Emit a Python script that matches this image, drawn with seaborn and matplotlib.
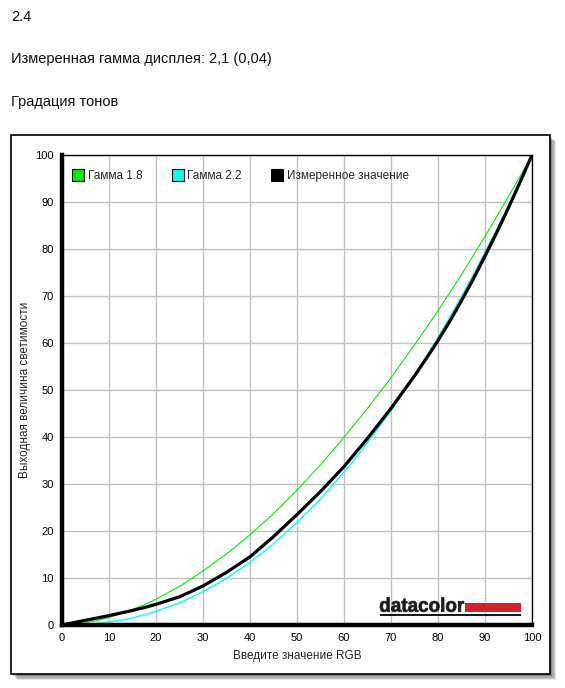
import numpy as np
import pandas as pd
import matplotlib
matplotlib.use("Agg")
import matplotlib.pyplot as plt
import seaborn as sns
from matplotlib.patches import Rectangle, PathPatch
from matplotlib.lines import Line2D
from matplotlib.textpath import TextPath
from matplotlib.font_manager import FontProperties
from matplotlib.transforms import Affine2D

# values
rgb_in = [0, 2.5, 5, 7.5, 10, 12.5, 15, 17.5, 20, 25, 30, 35, 40, 45, 50, 55, 60, 65, 70, 75,
          77.5, 80, 82.5, 85, 87.5, 90, 92.5, 95, 97.5, 100]
gamma_18 = [0, 0.13, 0.45, 0.95, 1.6, 2.4, 3.3, 4.3, 5.5, 8.2, 11.5, 15.1, 19.2, 23.7, 28.7, 34.1, 39.9, 46.1, 52.6, 59.6,
            63.2, 66.9, 70.7, 74.6, 78.6, 82.7, 86.9, 91.2, 95.5, 100]
gamma_22 = [0, 0.03, 0.14, 0.34, 0.63, 1.0, 1.5, 2.2, 2.9, 4.7, 7.1, 9.9, 13.3, 17.3, 21.8, 26.8, 32.5, 38.8, 45.6, 53.1,
            57.1, 61.2, 65.5, 69.9, 74.5, 79.3, 84.2, 89.3, 94.6, 100]
measured = [0, 0.5, 1.0, 1.5, 2.0, 2.55, 3.1, 3.7, 4.4, 6.0, 8.3, 11.2, 14.5, 18.8, 23.5, 28.4, 33.7, 39.7, 46.1, 53.0,
            56.7, 60.5, 64.6, 69.0, 73.6, 78.5, 83.5, 88.8, 94.3, 100]

series_names = ["Гамма 1.8", "Гамма 2.2", "Измеренное значение"]
series_colors = ["#00ee00", "#00ffff", "#000000"]
series_widths = [0.8, 1.0, 2.3]

ticks = list(range(0, 101, 10))

header_lines = ["2.4", "Измеренная гамма дисплея: 2,1 (0,04)", "Градация тонов"]
x_label = "Введите значение RGB"
y_label = "Выходная величина светимости"

sns.set_style("white")
plt.rcParams["font.family"] = ["Liberation Sans", "DejaVu Sans"]

W, H = 565, 688
fig = plt.figure(figsize=(W / 100, H / 100), dpi=100)

# page header text
for txt, ypx in zip(header_lines, [17, 59, 102]):
    fig.text(11 / W, 1 - ypx / H, txt, fontsize=10.5, va="center", ha="left", color="#111111")

# framed box with soft shadow
for i, a in enumerate([0.10, 0.12, 0.15, 0.2]):
    off = 6 - i * 1.2
    fig.patches.append(Rectangle(((11 + off) / W, (H - 674 - off) / H), 539 / W, 539 / H,
                                 transform=fig.transFigure, facecolor="#000000", alpha=a,
                                 edgecolor="none", zorder=0))
fig.patches.append(Rectangle((11 / W, (H - 674) / H), 539 / W, 539 / H,
                             transform=fig.transFigure, facecolor="white",
                             edgecolor="black", linewidth=1.2, zorder=1))

ax = fig.add_axes([62 / W, (H - 625) / H, 470 / W, 470 / H])
ax.set_zorder(2)

df = pd.DataFrame({
    "rgb": rgb_in * 3,
    "value": gamma_18 + gamma_22 + measured,
    "series": np.repeat(series_names, len(rgb_in)),
})
for name, col, lw in zip(series_names, series_colors, series_widths):
    sns.lineplot(data=df[df["series"] == name], x="rgb", y="value", color=col,
                 linewidth=lw, ax=ax, legend=False)

ax.set_xlim(0, 100)
ax.set_ylim(0, 100)
ax.set_xticks(ticks)
ax.set_yticks(ticks)
ax.grid(True, color="#c0c0c0", linewidth=1)
ax.set_axisbelow(True)
ax.tick_params(labelsize=8, length=4, width=1, colors="black", pad=2, direction="out")
for s in ["left", "bottom"]:
    ax.spines[s].set_linewidth(3.2)
    ax.spines[s].set_color("black")
for s in ["top", "right"]:
    ax.spines[s].set_linewidth(1)
    ax.spines[s].set_color("black")
ax.set_xlabel(x_label, fontsize=8.5, va="center")
ax.set_ylabel(y_label, fontsize=8.5, va="center")
ax.xaxis.set_label_coords(0.5, (625 - 656) / 470)
ax.yaxis.set_label_coords((25 - 62) / 470, 0.5)

handles = [Line2D([], [], linestyle="none", marker="s", markersize=8, markerfacecolor=c,
                  markeredgecolor="black", markeredgewidth=0.8) for c in series_colors]
ax.legend(handles, series_names, loc="upper left", bbox_to_anchor=(0.007, 0.985), ncol=3,
          frameon=False, fontsize=8.5, handlelength=0.8, handletextpad=0.4,
          columnspacing=2.6, borderaxespad=0.3)

# datacolor logo (condensed bold word, red bar, underline) in pixel coords
fp = FontProperties(family="Liberation Sans", weight="bold")
tp = TextPath((0, 0), "datacolor", size=1, prop=fp)
ext = tp.get_extents()
sx = 84 / ext.width
sy = 14.4 / 0.73
logo_tf = Affine2D().translate(-ext.x0, 0).scale(sx, sy).translate(380, H - 611.7)
fig.patches.append(PathPatch(tp, transform=logo_tf, facecolor="#1a1a1a", edgecolor="#1a1a1a",
                             linewidth=0.5, zorder=5))
fig.patches.append(Rectangle((465 / W, (H - 611.7) / H), 56 / W, 8.4 / H, transform=fig.transFigure,
                             facecolor="#d41f2d", edgecolor="none", zorder=5))
fig.patches.append(Rectangle((380 / W, (H - 615.7) / H), 141 / W, 2 / H, transform=fig.transFigure,
                             facecolor="#1a1a1a", edgecolor="none", zorder=5))

fig.savefig("out.png", dpi=100)
